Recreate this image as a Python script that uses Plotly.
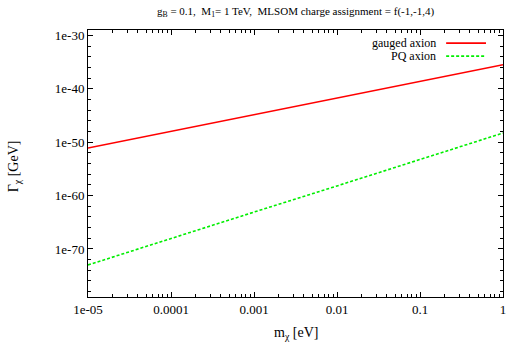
import plotly.graph_objects as go

# data (log10 of Gamma at each decade of m)
m_vals = [1e-5, 1e-4, 1e-3, 1e-2, 1e-1, 1.0]
gauged_log = [-51.1, -48.0, -44.9, -41.8, -38.6, -35.5]
pq_log = [-73.0, -68.0, -63.1, -58.2, -53.2, -48.3]
gauged = [10 ** v for v in gauged_log]
pq = [10 ** v for v in pq_log]

x_ticks = [1e-5, 1e-4, 1e-3, 1e-2, 1e-1, 1]
x_ticktext = ["1e-05", "0.0001", "0.001", "0.01", "0.1", "1"]
y_ticks = [1e-30, 1e-40, 1e-50, 1e-60, 1e-70]
y_ticktext = ["1e-30", "1e-40", "1e-50", "1e-60", "1e-70"]

RED = "#ff0000"
GREEN = "#00ee00"
FONT = "Liberation Serif"

fig = go.Figure()
fig.add_trace(go.Scatter(x=m_vals, y=gauged, mode="lines", name="gauged axion",
                         line=dict(color=RED, width=1.6), showlegend=False))
fig.add_trace(go.Scatter(x=m_vals, y=pq, mode="lines", name="PQ axion",
                         line=dict(color=GREEN, width=1.6, dash="3px,2px"), showlegend=False))

axis_common = dict(showgrid=False, zeroline=False, showline=True, linecolor="black",
                   linewidth=1, mirror="allticks", ticks="inside", ticklen=5,
                   tickcolor="black", automargin=False,
                   tickfont=dict(family=FONT, size=13, color="black"))

fig.update_xaxes(type="log", range=[-5.00001, 0.00001], tickvals=x_ticks, ticktext=x_ticktext,
                 minor=dict(ticks="inside", ticklen=3, tickcolor="black", dtick="D1"),
                 **axis_common)
fig.update_yaxes(type="log", range=[-79, -29], tickvals=y_ticks, ticktext=y_ticktext,
                 minor=dict(ticks="inside", ticklen=3, tickcolor="black", dtick=2, tick0=0),
                 **axis_common)

annotations = [
    dict(text="g<sub>B</sub> = 0.1,  M<sub>1</sub>= 1 TeV,  MLSOM charge assignment = f(-1,-1,4)",
         x=0.5, y=1.067, xref="paper", yref="paper", xanchor="center", yanchor="middle",
         showarrow=False, font=dict(family=FONT, size=11, color="black")),
    dict(text="Γ<sub>χ</sub> [GeV]", x=-0.178, y=0.49, xref="paper", yref="paper",
         textangle=-90, xanchor="center", yanchor="middle", showarrow=False,
         font=dict(family=FONT, size=14, color="black")),
    dict(text="m<sub>χ</sub> [eV]", x=0.5, y=-0.135, xref="paper", yref="paper",
         xanchor="center", yanchor="middle", showarrow=False,
         font=dict(family=FONT, size=14, color="black")),
    dict(text="gauged axion", x=0.843, y=0.951, xref="paper", yref="paper",
         xanchor="right", yanchor="middle", showarrow=False,
         font=dict(family=FONT, size=12, color="black")),
    dict(text="PQ axion", x=0.843, y=0.902, xref="paper", yref="paper",
         xanchor="right", yanchor="middle", showarrow=False,
         font=dict(family=FONT, size=12, color="black")),
]
shapes = [
    dict(type="line", xref="paper", yref="paper", x0=0.863, x1=0.959, y0=0.951, y1=0.951,
         line=dict(color=RED, width=1.6)),
    dict(type="line", xref="paper", yref="paper", x0=0.863, x1=0.959, y0=0.902, y1=0.902,
         line=dict(color=GREEN, width=1.6, dash="3px,2px")),
]

fig.update_layout(width=510, height=349, margin=dict(l=88, r=7, t=30, b=52),
                  plot_bgcolor="white", paper_bgcolor="white", hovermode=False,
                  annotations=annotations, shapes=shapes, showlegend=False)

# remove the browser's default body margin so the figure sits at the page origin
fig.write_html("out.html", config={"displayModeBar": False},
               post_script="document.body.style.margin='0';")
